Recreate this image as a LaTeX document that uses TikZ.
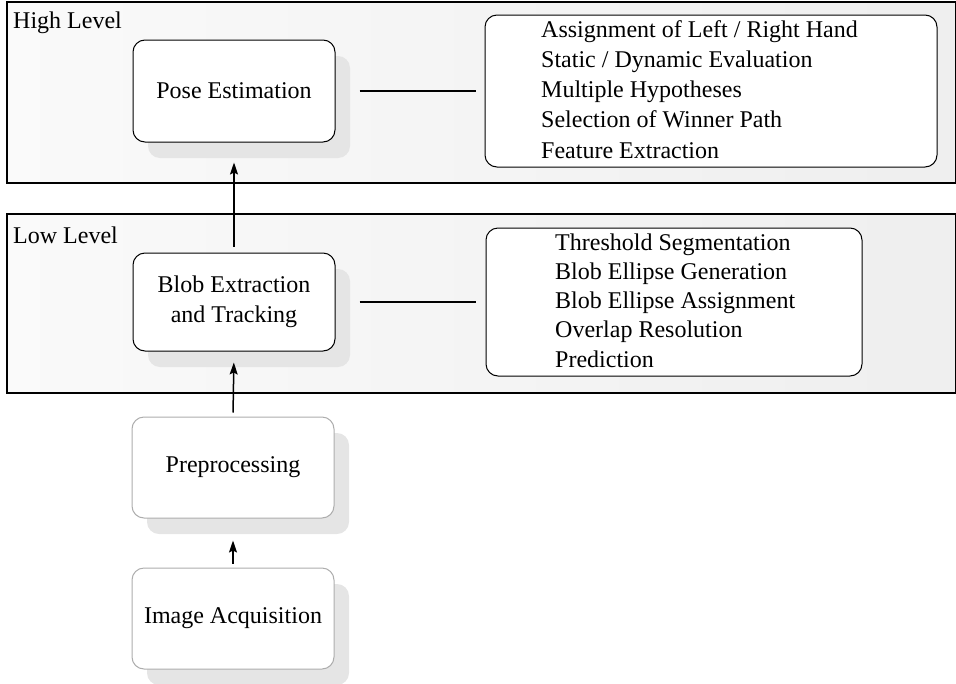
\documentclass[tikz,border=0pt]{standalone}
\usepackage{fontspec}
\setmainfont{Liberation Serif}
\usetikzlibrary{arrows.meta,shadows}
\begin{document}
\begin{tikzpicture}[x=1pt,y=-1pt,
  every node/.style={font=\fontsize{24}{30}\selectfont, inner sep=0pt},
  panel/.style={draw=black, line width=1.6pt, left color=gray!4, right color=gray!13,
    minimum width=949pt, anchor=north west},
  lvl/.style={anchor=base west},
  stagebox/.style={draw=black, line width=1pt, rounded corners=12pt, fill=white,
    minimum width=202pt, align=center,
    general shadow={fill=black!10, shadow xshift=15pt, shadow yshift=-16pt}},
  prebox/.style={stagebox, draw=black!32},
  listbox/.style={draw=black, line width=1pt, rounded corners=12pt, fill=white},
  listtext/.style={anchor=west, align=left},
  conn/.style={line width=1.3pt},
  arr/.style={line width=1.5pt, -{Stealth[length=12pt,width=8pt,inset=2pt]}}
]
\useasboundingbox (0,0) rectangle (956,683);

% panels
\node[panel, minimum height=181pt] (high) at (6,1) {};
\node[lvl] (highlabel) at (13,28) {High Level};
\node[panel, minimum height=179pt] (low) at (6,213) {};
\node[lvl] (lowlabel) at (13,243) {Low Level};

% stage boxes
\node[stagebox, minimum height=102pt] (pose) at (234,91) {Pose Estimation};
\node[stagebox, minimum height=98pt] (blob) at (234,302) {Blob Extraction\\and Tracking};
\node[prebox, minimum height=101pt] (pre) at (233,467.5) {Preprocessing};
\node[prebox, minimum height=101pt] (ia) at (233,618.5) {Image Acquisition};

% list boxes
\node[listbox, minimum width=452pt, minimum height=152pt] (hlist) at (711,91) {};
\node[listtext, font=\fontsize{24}{30.25}\selectfont] (hlisttext) at (541,89.3)
  {Assignment of Left / Right Hand\\Static / Dynamic Evaluation\\Multiple Hypotheses\\Selection of Winner Path\\Feature Extraction};
\node[listbox, minimum width=376pt, minimum height=148pt] (llist) at (674,302) {};
\node[listtext, font=\fontsize{24}{29.25}\selectfont] (llisttext) at (555,300.3)
  {Threshold Segmentation\\Blob Ellipse Generation\\Blob Ellipse Assignment\\Overlap Resolution\\Prediction};

% connectors
\draw[conn, shorten <=24pt, shorten >=9pt] (pose) -- (hlist);
\draw[conn, shorten <=24pt, shorten >=10pt] (blob) -- (llist);
\draw[arr, shorten <=6pt, shorten >=20pt] (blob.north) -- (pose.south);
\draw[arr, shorten <=4pt, shorten >=11pt] (pre.north) -- (blob.south);
\draw[arr, shorten <=4pt, shorten >=22pt] (ia.north) -- (pre.south);
\end{tikzpicture}
\end{document}
